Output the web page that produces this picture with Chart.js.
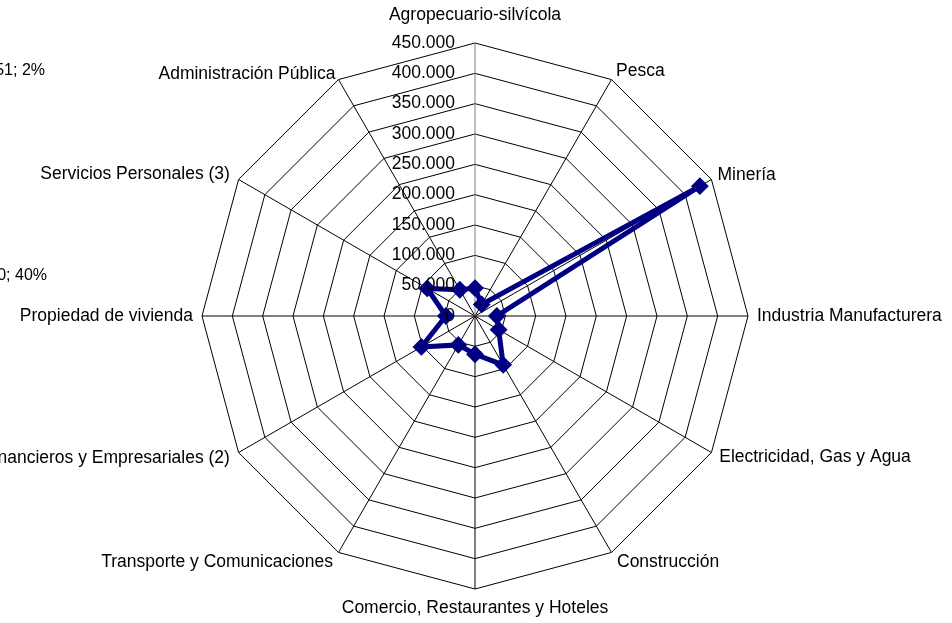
<!DOCTYPE html>
<html>
<head>
<meta charset="utf-8">
<script src="https://cdn.jsdelivr.net/npm/chart.js@4.4.1/dist/chart.umd.min.js"></script>
<style>
  html, body { margin: 0; padding: 0; background: #fff; overflow: hidden; }
  /* canvas is wider than the window so long labels can run off the left edge */
  #wrap { position: absolute; left: -175px; top: 0; width: 1300px; height: 623px; }
</style>
</head>
<body>
<div id="wrap"><canvas id="radarChart" width="1300" height="623"></canvas></div>
<script>
// categories (clockwise from top)
const categories = [
    "Agropecuario-silvícola",
    "Pesca",
    "Minería",
    "Industria Manufacturera",
    "Electricidad, Gas y Agua",
    "Construcción",
    "Comercio, Restaurantes y Hoteles",
    "Transporte y Comunicaciones",
    "Servicios Financieros y Empresariales (2)",
    "Propiedad de vivienda",
    "Servicios Personales (3)",
    "Administración Pública"
];

// series values
const values = [46000, 22000, 428000, 36000, 45000, 93000, 63000, 55000, 102000, 48000, 91000, 50000];

// radial axis
const tickLabels = ["0", "50.000", "100.000", "150.000", "200.000", "250.000", "300.000", "350.000", "400.000", "450.000"];
const axisMax = 450000;
const axisStep = 50000;

// leftover labels of a neighbouring chart, cut by the left edge
const strayLabels = ["51; 2%", "0; 40%"];

const fontFamily = '"Liberation Sans", Arial, sans-serif';
const labelPad = [27, 9, 7, 9, 9, 11, 19, 11, 10, 9, 10, 6];

const tickLabelPlugin = {
    id: 'tickLabelPlugin',
    afterDraw(chart) {
        const scale = chart.scales.r;
        const ctx = chart.ctx;
        ctx.save();
        ctx.fillStyle = '#000';
        ctx.textBaseline = 'middle';
        ctx.textAlign = 'right';
        ctx.font = '17.5px ' + fontFamily;
        scale.ticks.forEach((tick, i) => {
            let y = scale.yCenter - scale.getDistanceFromCenterForValue(tick.value);
            ctx.fillText(tickLabels[i], scale.xCenter - 20, y);
        });
        // stray labels (window coords + canvas offset)
        ctx.font = '16px ' + fontFamily;
        ctx.fillText(strayLabels[0], 175 + 45, 71);
        ctx.fillText(strayLabels[1], 175 + 47, 276);
        ctx.restore();
    }
};

let radarCtx = document.getElementById('radarChart').getContext('2d');

let radarChart = new Chart(radarCtx, {
    type: 'radar',
    data: {
        labels: categories,
        datasets: [{
            label: "PIB",
            data: values,
            borderColor: '#000080',
            backgroundColor: '#000080',
            borderWidth: 5,
            fill: false,
            tension: 0,
            pointStyle: 'rectRot',
            pointRadius: 7.5,
            pointBorderWidth: 2,
            pointBackgroundColor: '#000080',
            pointBorderColor: '#000080'
        }]
    },
    options: {
        responsive: false,
        animation: false,
        layout: { padding: { top: 11, bottom: 10, left: 0, right: 0 } },
        plugins: {
            legend: { display: false },
            tooltip: { enabled: false }
        },
        scales: {
            r: {
                min: 0,
                max: axisMax,
                ticks: {
                    display: false,
                    stepSize: axisStep,
                    callback: (v, i) => tickLabels[i]
                },
                grid: { color: '#000', lineWidth: 1 },
                angleLines: {
                    color: (c) => c.index === 0 ? '#808080' : '#000',
                    lineWidth: 1
                },
                pointLabels: {
                    color: '#000',
                    font: { family: fontFamily, size: 17.5, lineHeight: '1px' },
                    padding: (c) => labelPad[c.index]
                }
            }
        }
    },
    plugins: [tickLabelPlugin]
});
</script>
</body>
</html>
